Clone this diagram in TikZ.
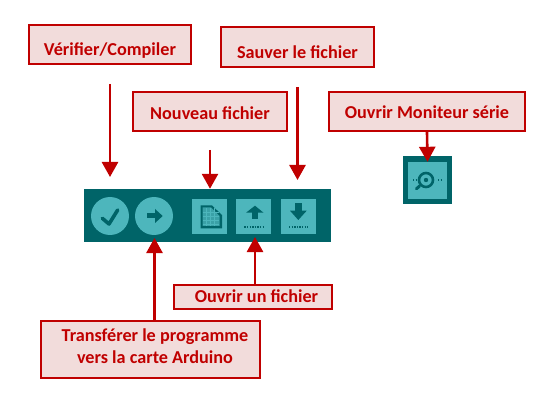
\documentclass[tikz,border=0pt]{standalone}
\usepackage{fontspec}
\setmainfont{Carlito}
\usetikzlibrary{arrows.meta}
\definecolor{redline}{HTML}{C00000}
\definecolor{redfill}{HTML}{F2DCDB}
\definecolor{tealdark}{HTML}{006468}
\definecolor{teallight}{HTML}{4DB6BC}
\newcommand{\baseat}[2]{\raisebox{-#1pt}[0pt][0pt]{#2}}
\newcommand{\lineup}[1]{\raisebox{1.75pt}[13pt][4pt]{\hspace*{9pt}#1}}
\tikzset{
    labelbox/.style={draw=redline, fill=redfill, line width=2pt, text=redline, inner sep=0pt,
        align=center, font=\fontsize{18.2}{22.5}\selectfont\bfseries},
    redarrow/.style={draw=redline, line width=2.6pt, -{Triangle[length=15pt, width=16pt]}},
    toolbutton/.style={fill=teallight, inner sep=0pt, minimum size=35pt},
    toolround/.style={circle, fill=teallight, inner sep=0pt, minimum size=38pt},
    icondark/.style={fill=tealdark, draw=none},
    icondots/.style={draw=tealdark, line width=1.8pt, dash pattern=on 1.4pt off 1.2pt}
}
\begin{document}
\begin{tikzpicture}[x=1pt, y=-1pt]
    \useasboundingbox (0,0) rectangle (550,412);

    % Toolbar
    \node[fill=tealdark, inner sep=0pt, minimum width=247pt, minimum height=53pt] (toolbar) at (207.5,215.5) {};
    \node[toolround] (verify) at (110,216) {};
    \node[toolround] (upload) at (154,216) {};
    \node[toolbutton] (new) at (209.5,216.5) {};
    \node[toolbutton] (open) at (253.5,216.5) {};
    \node[toolbutton] (save) at (298.5,216.5) {};

    % Toolbar icons
    \draw[tealdark, line width=3.6pt, line cap=round, line join=round] (102.3,218.3) -- (109,224) -- (117.7,210);
    \fill[icondark] (147.3,213.5) rectangle (156,218.5);
    \fill[icondark] (155,209) -- (162.7,216) -- (155,223) -- cycle;
    \fill[icondark] (200.5,205.5) -- (212,205.5) -- (222,215) -- (222,228.5) -- (200.5,228.5) -- cycle;
    \fill[teallight!75!tealdark] (202.5,207.5) -- (211,207.5) -- (219.5,216) -- (219.5,226) -- (202.5,226) -- cycle;
    \foreach \gridx in {206,210,214} {
        \draw[teallight, line width=0.6pt] (\gridx,208) -- (\gridx,226);
    }
    \foreach \gridy in {212,216,220,224} {
        \draw[teallight, line width=0.6pt] (203,\gridy) -- (219,\gridy);
    }
    \fill[icondark] (246,212.7) -- (255,205.7) -- (263.5,212.7) -- cycle;
    \fill[icondark] (251.7,212) rectangle (258.3,219.3);
    \draw[icondots] (244.3,226.7) -- (263.3,226.7);
    \fill[icondark] (295,202.7) rectangle (301.7,211);
    \fill[icondark] (290,210.7) -- (298.3,220) -- (306.7,210.7) -- cycle;
    \draw[icondots] (289,226.7) -- (308,226.7);

    % Serial monitor button
    \node[fill=tealdark, inner sep=0pt, minimum width=49pt, minimum height=48pt] (monitor) at (427.5,180) {};
    \node[fill=teallight, inner sep=0pt, minimum width=39pt, minimum height=37pt] (monitorin) at (427.5,180.5) {};
    \draw[tealdark, line width=3pt, line cap=round] (419.5,186) -- (416.5,188.8);
    \draw[tealdark, line width=2.6pt] (426,180) circle (7pt);
    \fill[tealdark] (426,180) circle (2.2pt);
    \draw[icondots, line width=1.2pt] (413,180) -- (416,180);
    \draw[icondots, line width=1.2pt] (438,180) -- (443,180);

    % Labels
    \node[labelbox, minimum width=162pt, minimum height=39pt] (compiler) at (110,44.5) {\baseat{11.5}{Vérifier/Compiler}};
    \node[labelbox, line width=1.4pt, minimum width=153pt, minimum height=40pt] (saver) at (297.5,47) {\baseat{11.3}{Sauver le fichier}};
    \node[labelbox, minimum width=154pt, minimum height=39pt] (nouveau) at (210,111.5) {\baseat{7.7}{Nouveau fichier}};
    \node[labelbox, minimum width=196pt, minimum height=39pt] (serie) at (427,111.5) {\baseat{7.3}{Ouvrir Moniteur série}};
    \node[labelbox, minimum width=158pt, minimum height=24pt] (ouvrir) at (253,297) {\baseat{5.5}{\hspace*{7pt}Ouvrir un fichier}};
    \node[labelbox, minimum width=219pt, minimum height=57pt] (transfert) at (150.5,349.5) {\lineup{Transférer le programme}\\\lineup{vers la carte Arduino}};

    % Free ends of the arrows
    \coordinate (compilertop) at (110,84);
    \coordinate (compilertip) at (110,177);
    \coordinate (savertop) at (297.5,87);
    \coordinate (savertip) at (297.5,180);
    \coordinate (nouveautop) at (210,150);
    \coordinate (uploadtip) at (154.5,238);
    \coordinate (opentip) at (255,237);

    % Arrows
    \draw[redarrow] (compilertop) -- (compilertip);
    \draw[redarrow] (savertop) -- (savertip);
    \draw[redarrow] (nouveautop) -- (toolbar.north -| nouveautop);
    \draw[redarrow] (serie.south) -- (monitorin.north);
    \draw[redarrow] (transfert.north -| uploadtip) -- (uploadtip);
    \draw[redarrow] (ouvrir.north -| opentip) -- (opentip);

\end{tikzpicture}
\end{document}
